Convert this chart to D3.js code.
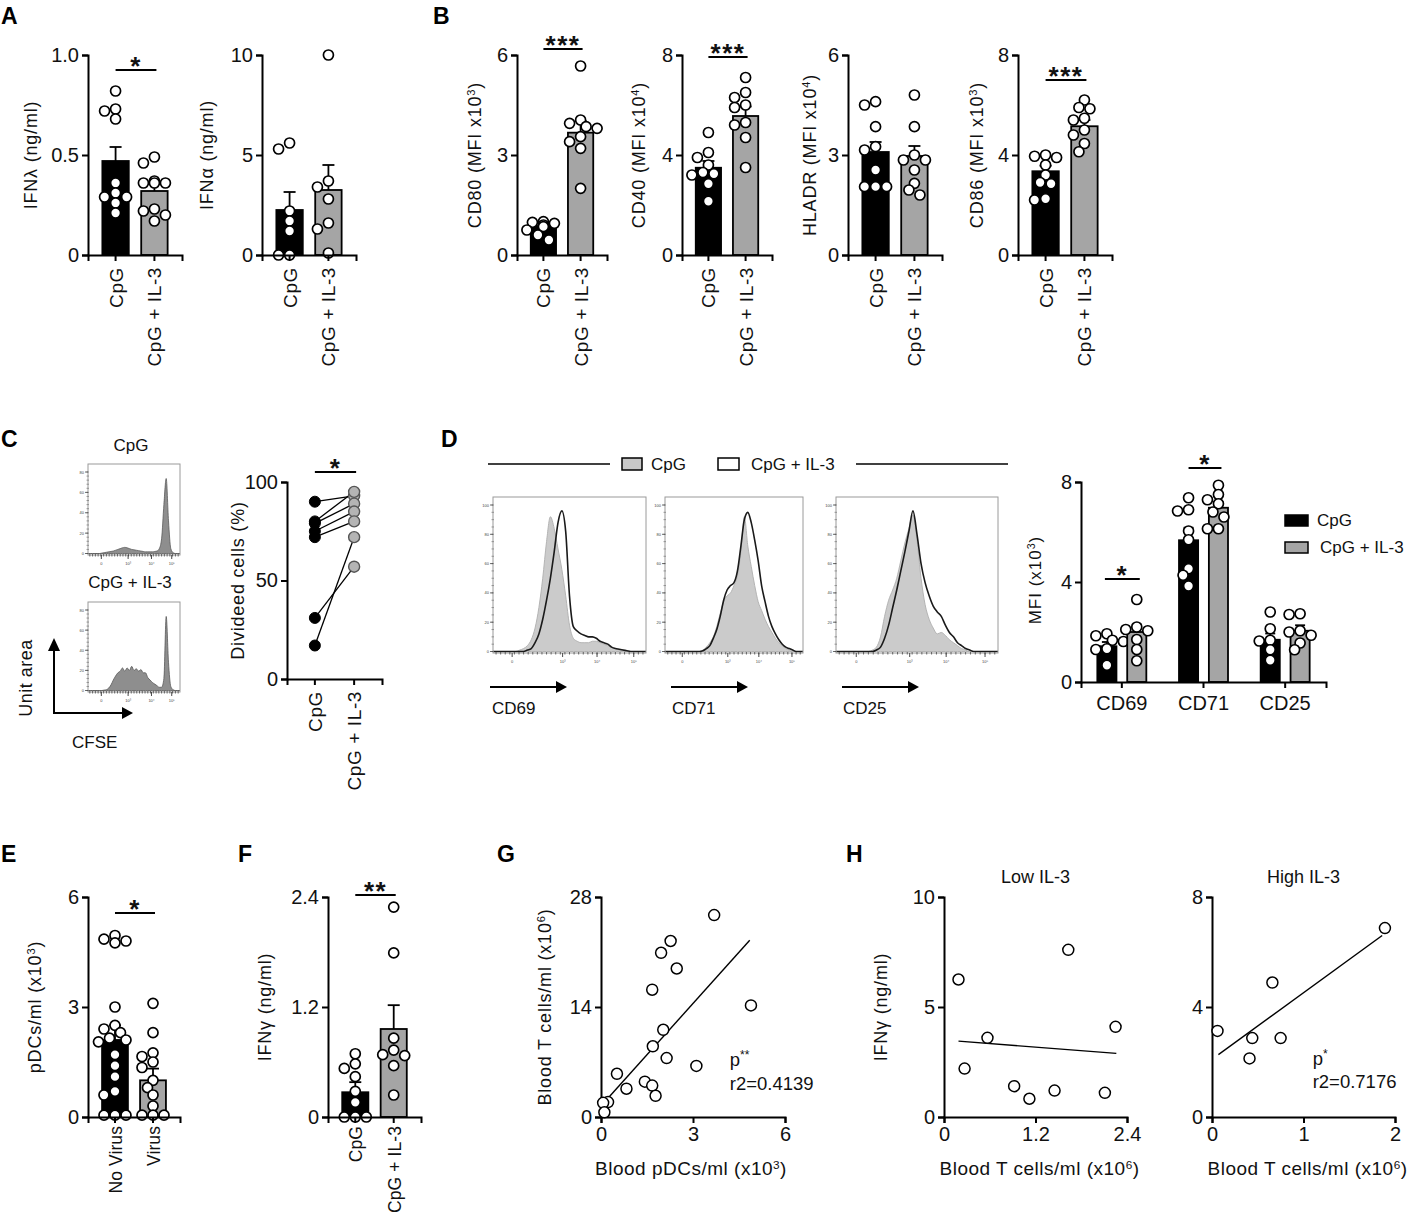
<!DOCTYPE html>
<html>
<head>
<meta charset="utf-8">
<script src="https://cdn.jsdelivr.net/npm/d3@7"></script>
<style>
  body { margin: 0; background: #fff; }
  svg { display: block; }
</style>
</head>
<body>
<div id="fig"></div>
<script>
var FONT = "'Liberation Sans', Arial, sans-serif";

// ---------- data ----------
var twoGroups = ["CpG", "CpG + IL-3"];
var virusGroups = ["No Virus", "Virus"];

// A
var ifnLambdaPts = [[0.82, 0.73, 0.72, 0.68, 0.36, 0.31, 0.29, 0.29, 0.26, 0.21],
                    [0.49, 0.46, 0.37, 0.36, 0.36, 0.36, 0.23, 0.22, 0.20, 0.17]];
var ifnLambdaMean = [0.47, 0.32];
var ifnLambdaSem = [0.07, 0.035];
var ifnAlphaPts = [[5.6, 5.3, 2.2, 1.7, 1.2, 0, 0],
                   [10, 3.7, 3.4, 2.8, 1.6, 1.3, 0.1]];
var ifnAlphaMean = [2.25, 3.25];
var ifnAlphaSem = [0.9, 1.25];

// B
var cd80Pts = [[1.0, 0.98, 0.95, 0.9, 0.85, 0.75, 0.6, 0.45],
               [5.67, 4.05, 3.95, 3.85, 3.8, 3.55, 3.4, 3.2, 2.0]];
var cd80Mean = [0.87, 3.67];
var cd80Sem = [0.07, 0.35];
var cd40Pts = [[4.9, 4.1, 3.9, 3.6, 3.3, 3.25, 3.2, 2.85, 2.15],
               [7.1, 6.5, 6.3, 6.0, 5.9, 5.3, 5.2, 4.7, 3.5]];
var cd40Mean = [3.49, 5.56];
var cd40Sem = [0.27, 0.38];
var hladrPts = [[4.6, 4.5, 3.85, 3.25, 3.15, 2.55, 2.05, 2.05, 2.05],
                [4.8, 3.85, 3.0, 2.85, 2.85, 2.55, 2.15, 1.95, 1.8]];
var hladrMean = [3.09, 2.97];
var hladrSem = [0.3, 0.3];
var cd86Pts = [[4.0, 3.95, 3.9, 3.6, 3.2, 2.9, 2.85, 2.25, 2.2],
               [6.2, 5.9, 5.85, 5.47, 5.4, 5.0, 4.8, 4.46, 4.13]];
var cd86Mean = [3.35, 5.15];
var cd86Sem = [0.22, 0.25];

// C
var dividedCpG = [90, 80, 79, 75, 72, 31, 17];
var dividedIL3 = [93, 95, 89, 85, 80, 57, 72];
var cfseCpG = [0,0,0,0,0,0,0.5,1,1.5,2,2.5,3,4,5,6,7,7.5,7,6,5,4.5,4,3.5,3,2.5,2,2,2,2,2.5,3,6,18,60,92,40,6,1,0,0,0];
var cfseIL3 = [0,0,0,0,0,0,0,0.5,1,3,7,13,18,22,24,28,24,28,25,30,25,27,24,26,22,22,16,13,10,8,6,4,4,15,92,35,5,1,0,0,0];
var cfseTickLabels = ["0", "10\u00b3", "10\u2074", "10\u2075"];

// D
var markers = ["CD69", "CD71", "CD25"];
var cd69Gray = [0,0,0,0,0,0,0,1,2,4,8,16,30,50,75,92,84,70,56,38,18,9,7,6,6,6,7,7,6,5,4,3,2,1,1,0,0,0,0,0,0];
var cd69Black = [0,0,0,0,0,0,0,0,0,1,2,6,12,22,35,50,68,88,96,82,38,17,14,12,11,10,10,9,7,6,5,3,2,1.5,1,0.5,0,0,0,0,0];
var cd71Gray = [0,0,0,0,0,0,0,0,0,0,0,1,3,6,10,17,26,34,38,40,45,52,68,92,72,58,45,34,28,22,17,13,9,6,4,2,1,0,0,0,0];
var cd71Black = [0,0,0,0,0,0,0,0,0,0,0,0.5,2,4,9,15,24,35,42,45,47,55,72,90,95,88,76,62,45,34,24,17,12,8,5,3,2,1,0,0,0];
var cd25Gray = [0,0,0,0,0,0,0,0,0,1,3,10,24,35,42,50,62,74,84,93,76,50,32,22,16,12,13,11,8,6,4,2,1,0,0,0,0,0,0,0,0];
var cd25Black = [0,0,0,0,0,0,0,0,0,0,1,3,9,18,30,42,55,68,82,96,80,60,47,38,31,27,24,18,13,10,6,4,2,1,0,0,0,0,0,0,0];
var flowYTicks = ["0", "20", "40", "60", "80", "100"];
var mfiCpGPts = [[1.93, 1.85, 1.67, 1.62, 1.33, 1.3, 0.67],
                 [7.37, 6.89, 6.84, 6.04, 5.69, 4.53, 4.27, 3.84],
                 [2.8, 2.13, 1.67, 1.64, 1.29, 0.87]];
var mfiIL3Pts = [[3.3, 2.2, 2.1, 2.05, 1.7, 1.3, 0.85],
                 [7.87, 7.5, 7.29, 7.13, 6.8, 6.6, 6.13, 6.13],
                 [2.73, 2.7, 2.05, 2.0, 1.87, 1.56, 1.29]];
var mfiCpGMean = [1.43, 5.67, 1.69];
var mfiCpGSem = [0.17, 0.5, 0.25];
var mfiIL3Mean = [2.0, 6.97, 2.05];
var mfiIL3Sem = [0.3, 0.23, 0.22];

// E, F
var pdcPts = [[4.95, 4.85, 4.8, 4.75, 3.0, 2.5, 2.4, 2.3, 2.15, 2.1, 2.05, 1.7, 1.4, 1.1, 0.7, 0.6, 0.05, 0.05, 0.05],
              [3.1, 2.3, 1.75, 1.65, 1.5, 1.35, 1.0, 0.8, 0.6, 0.3, 0.05, 0.05, 0.05]];
var pdcMean = [2.1, 1.0];
var pdcSem = [0.4, 0.32];
var ifnGammaPts = [[0.69, 0.58, 0.53, 0.44, 0.28, 0.16, 0, 0, 0],
                   [2.29, 1.79, 0.86, 0.73, 0.68, 0.67, 0.56, 0.24]];
var ifnGammaMean = [0.27, 0.96];
var ifnGammaSem = [0.11, 0.26];

// G
var gPdc = [3.69, 2.27, 1.96, 2.47, 1.67, 4.89, 2.03, 1.69, 2.14, 3.11, 0.52, 1.43, 1.67, 0.83, 1.78, 0.23, 0.07, 0.11];
var gTcells = [25.7, 22.4, 20.9, 18.9, 16.2, 14.2, 11.1, 9.0, 7.5, 6.5, 5.5, 4.5, 4.0, 3.6, 2.7, 1.9, 1.8, 0.6];
var gFit = [1.4, 4.35];          // intercept, slope
var gFitRange = [0.05, 4.85];

// H
var lowTcells = [0.19, 0.27, 0.57, 0.92, 1.12, 1.45, 1.63, 2.11, 2.25];
var lowIfng = [6.25, 2.2, 3.6, 1.4, 0.83, 1.2, 7.6, 1.1, 4.1];
var lowFit = [3.5, -0.27];
var lowFitRange = [0.19, 2.26];
var highTcells = [0.06, 0.41, 0.44, 0.66, 0.75, 1.89];
var highIfng = [3.13, 2.13, 2.87, 4.89, 2.87, 6.87];
var highFit = [2.1, 2.42];
var highFitRange = [0.07, 1.86];

// ---------- drawing ----------
var svg = d3.select("#fig").append("svg")
    .attr("width", 1412).attr("height", 1215)
    .attr("font-family", FONT);

var R = 5;
var TICK_FS = 20;
var histGrid = d3.range(0, 100.01, 2.5);

function richText(sel, parts, size) {
    parts.forEach(function(p) {
        if (typeof p === "string") sel.append("tspan").text(p);
        else sel.append("tspan").attr("baseline-shift", "super").attr("font-size", size * 0.62).text(p.sup);
    });
    return sel;
}

function yTitle(x, cy, parts, size, spacing) {
    var t = svg.append("text")
        .attr("transform", "translate(" + (x + 6) + "," + cy + ") rotate(-90)")
        .attr("text-anchor", "middle")
        .attr("font-size", size)
        .attr("letter-spacing", spacing)
        .attr("fill", "#111");
    richText(t, parts, size);
}

function styleAxis(sel, fs) {
    sel.attr("font-family", FONT).attr("font-size", fs);
    sel.select(".domain").attr("stroke", "#000").attr("stroke-width", 2);
    sel.selectAll(".tick line").attr("stroke", "#000").attr("stroke-width", 2);
    sel.selectAll(".tick text").attr("fill", "#111");
}

// simple beeswarm so the dots don't sit on top of each other
function swarm(vals, y, cx, r) {
    var placed = [];
    vals.forEach(function(v) {
        var py = y(v), px = cx, offs = [0, -1, 1, -2, 2, -3, 3];
        for (var k = 0; k < offs.length; k++) {
            var tx = cx + offs[k] * r * 1.1;
            var ok = placed.every(function(p) { return Math.hypot(p[0] - tx, p[1] - py) >= r * 1.7; });
            if (ok) { px = tx; break; }
        }
        placed.push([px, py]);
    });
    return placed;
}

function sigBar(x1, x2, y, txt) {
    svg.append("line").attr("x1", x1).attr("x2", x2).attr("y1", y).attr("y2", y)
        .attr("stroke", "#000").attr("stroke-width", 1.8);
    svg.append("text").attr("x", (x1 + x2) / 2).attr("y", y + 5)
        .attr("text-anchor", "middle").attr("font-size", 26).attr("font-weight", "bold")
        .attr("letter-spacing", 1.5).attr("fill", "#111").text(txt);
}

function catLabel(g, cx, zero, text, small) {
    g.append("text")
        .attr("transform", "translate(" + (cx + 7) + "," + (zero + (small ? 9 : 12)) + ") rotate(-90)")
        .attr("text-anchor", "end").attr("font-size", small ? 17.5 : 19).attr("letter-spacing", small ? 0.1 : 0.6)
        .attr("fill", "#111").text(text);
}

function barDot(c) {
    var fills = ["#000", "#a5a5a5"];
    var g = svg.append("g").attr("transform", "translate(" + c.x + ",0)");
    var y = d3.scaleLinear().domain([0, c.max]).range([c.zero, c.top]);
    var x = d3.scaleBand().domain(c.cats).range([0, c.w]).paddingInner(0.32).paddingOuter(0.37);
    var cx = function(i) { return x(c.cats[i]) + x.bandwidth() / 2; };

    g.selectAll("rect.bar").data(c.mean).join("rect")
        .attr("x", function(d, i) { return x(c.cats[i]); })
        .attr("width", x.bandwidth())
        .attr("y", function(d) { return y(d); })
        .attr("height", function(d) { return c.zero - y(d); })
        .attr("fill", function(d, i) { return fills[i]; })
        .attr("stroke", "#000").attr("stroke-width", 1.8);

    c.mean.forEach(function(m, i) {
        var top = y(m + c.sem[i]);
        g.append("line").attr("x1", cx(i)).attr("x2", cx(i)).attr("y1", y(m)).attr("y2", top)
            .attr("stroke", "#000").attr("stroke-width", 1.8);
        g.append("line").attr("x1", cx(i) - 6).attr("x2", cx(i) + 6).attr("y1", top).attr("y2", top)
            .attr("stroke", "#000").attr("stroke-width", 1.8);
    });

    c.pts.forEach(function(arr, i) {
        g.append("g").selectAll("circle").data(swarm(arr, y, cx(i), R)).join("circle")
            .attr("cx", function(d) { return d[0]; })
            .attr("cy", function(d) { return d[1]; })
            .attr("r", R).attr("fill", "#fff").attr("stroke", "#000").attr("stroke-width", 1.7);
    });

    var ya = g.append("g").call(d3.axisLeft(y).tickValues(c.ticks).tickFormat(c.fmt || d3.format("d"))
        .tickSizeOuter(0).tickSize(6).tickPadding(3));
    styleAxis(ya, TICK_FS);
    var xa = g.append("g").attr("transform", "translate(0," + c.zero + ")")
        .call(d3.axisBottom(x).tickFormat("").tickSizeOuter(0).tickSize(6));
    styleAxis(xa, TICK_FS);

    c.cats.forEach(function(cat, i) { catLabel(g, cx(i), c.zero, cat, c.smallCats); });

    yTitle(c.titleX, (c.top + c.zero) / 2, c.title, 18, 0.8);
    if (c.sig) sigBar(c.x + cx(0), c.x + cx(1) + 2, c.sig.y, c.sig.text);
}

function letter(x, y, t) {
    svg.append("text").attr("x", x).attr("y", y).attr("font-size", 23).attr("font-weight", "bold")
        .attr("fill", "#000").text(t);
}

// ---- row 1 ----
letter(1, 24, "A");
letter(433, 24, "B");
var fmt1 = function(d) { return d === 0 ? "0" : d.toFixed(1); };
barDot({x: 88, w: 94, top: 55, zero: 255, max: 1, ticks: [0, 0.5, 1], fmt: fmt1, cats: twoGroups,
        pts: ifnLambdaPts, mean: ifnLambdaMean, sem: ifnLambdaSem,
        title: ["IFN\u03bb (ng/ml)"], titleX: 31, sig: {y: 70, text: "*"}});
barDot({x: 262, w: 94, top: 55, zero: 255, max: 10, ticks: [0, 5, 10], cats: twoGroups,
        pts: ifnAlphaPts, mean: ifnAlphaMean, sem: ifnAlphaSem,
        title: ["IFN\u03b1 (ng/ml)"], titleX: 207});
barDot({x: 517, w: 90, top: 55, zero: 255, max: 6, ticks: [0, 3, 6], cats: twoGroups,
        pts: cd80Pts, mean: cd80Mean, sem: cd80Sem,
        title: ["CD80 (MFI x10", {sup: "3"}, ")"], titleX: 475, sig: {y: 49, text: "***"}});
barDot({x: 682, w: 90, top: 55, zero: 255, max: 8, ticks: [0, 4, 8], cats: twoGroups,
        pts: cd40Pts, mean: cd40Mean, sem: cd40Sem,
        title: ["CD40 (MFI x10", {sup: "4"}, ")"], titleX: 639, sig: {y: 57, text: "***"}});
barDot({x: 848, w: 94, top: 55, zero: 255, max: 6, ticks: [0, 3, 6], cats: twoGroups,
        pts: hladrPts, mean: hladrMean, sem: hladrSem,
        title: ["HLADR (MFI x10", {sup: "4"}, ")"], titleX: 810});
barDot({x: 1018, w: 94, top: 55, zero: 255, max: 8, ticks: [0, 4, 8], cats: twoGroups,
        pts: cd86Pts, mean: cd86Mean, sem: cd86Sem,
        title: ["CD86 (MFI x10", {sup: "3"}, ")"], titleX: 977, sig: {y: 80, text: "***"}});

// ---- flow histogram boxes ----
function flowBox(b, curves, xTicks, xLabels, yLabels) {
    var g = svg.append("g");
    var x = d3.scaleLinear().domain([0, 100]).range([b.x0, b.x1]);
    var y = d3.scaleLinear().domain([0, 100]).range([b.y1 - 1.5, b.y0 + b.pad]);
    var area = d3.area().x(function(d, i) { return x(histGrid[i]); }).y0(y(0))
        .y1(function(d) { return y(d); }).curve(d3.curveMonotoneX);
    var line = d3.line().x(function(d, i) { return x(histGrid[i]); })
        .y(function(d) { return y(d); }).curve(d3.curveMonotoneX);
    curves.forEach(function(c) {
        if (c.fill) g.append("path").attr("d", area(c.v)).attr("fill", c.fill)
            .attr("stroke", c.stroke).attr("stroke-width", c.sw);
        else g.append("path").attr("d", line(c.v)).attr("fill", "none")
            .attr("stroke", c.stroke).attr("stroke-width", c.sw);
    });
    g.append("rect").attr("x", b.x0).attr("y", b.y0).attr("width", b.x1 - b.x0).attr("height", b.y1 - b.y0)
        .attr("fill", "none").attr("stroke", "#9a9a9a").attr("stroke-width", 1);
    // minor ticks along left and bottom
    d3.range(0, 101, 5).forEach(function(v) {
        g.append("line").attr("x1", b.x0 - 1.5).attr("x2", b.x0 + 1).attr("y1", y(v)).attr("y2", y(v))
            .attr("stroke", "#777").attr("stroke-width", 0.7);
    });
    d3.range(2, 100, 3).forEach(function(u) {
        g.append("line").attr("x1", x(u)).attr("x2", x(u)).attr("y1", b.y1 - 1).attr("y2", b.y1 + 1.5)
            .attr("stroke", "#444").attr("stroke-width", 0.8);
    });
    yLabels.forEach(function(lab, i) {
        var v = i * 100 / (yLabels.length - 1);
        g.append("line").attr("x1", b.x0 - 3).attr("x2", b.x0).attr("y1", y(v)).attr("y2", y(v))
            .attr("stroke", "#444").attr("stroke-width", 0.8);
        g.append("text").attr("x", b.x0 - 4).attr("y", y(v) + 1.5).attr("text-anchor", "end")
            .attr("font-size", 4).attr("fill", "#444").text(lab);
    });
    xTicks.forEach(function(u, i) {
        g.append("line").attr("x1", x(u)).attr("x2", x(u)).attr("y1", b.y1).attr("y2", b.y1 + 4)
            .attr("stroke", "#333").attr("stroke-width", 0.9);
        g.append("text").attr("x", x(u)).attr("y", b.y1 + 10).attr("text-anchor", "middle")
            .attr("font-size", 4).attr("fill", "#444").text(xLabels[i]);
    });
}

function arrowH(x1, x2, y) {
    svg.append("line").attr("x1", x1).attr("x2", x2 - 8).attr("y1", y).attr("y2", y)
        .attr("stroke", "#000").attr("stroke-width", 2);
    svg.append("path").attr("d", "M" + x2 + "," + y + "L" + (x2 - 11) + "," + (y - 6) + "L" + (x2 - 11) + "," + (y + 6) + "Z")
        .attr("fill", "#000");
}

function plainText(x, y, t, size, anchor) {
    return svg.append("text").attr("x", x).attr("y", y).attr("font-size", size)
        .attr("text-anchor", anchor || "start").attr("fill", "#111").text(t);
}

// ---- row 2: C ----
letter(1, 447, "C");
plainText(131, 451, "CpG", 17, "middle");
plainText(130, 588, "CpG  + IL-3", 17, "middle");
var cfseGray = {fill: "#8e8e8e", stroke: "#5a5a5a", sw: 0.8};
flowBox({x0: 88, x1: 180, y0: 464, y1: 555, pad: 8},
        [{v: cfseCpG, fill: cfseGray.fill, stroke: cfseGray.stroke, sw: cfseGray.sw}],
        [14.5, 43.6, 69, 91], cfseTickLabels, ["0", "20", "40", "60", "80"]);
flowBox({x0: 88, x1: 180, y0: 602, y1: 692, pad: 8},
        [{v: cfseIL3, fill: cfseGray.fill, stroke: cfseGray.stroke, sw: cfseGray.sw}],
        [14.5, 43.6, 69, 91], cfseTickLabels, ["0", "20", "40", "60", "80"]);
// unit area / CFSE axes
svg.append("line").attr("x1", 54).attr("x2", 54).attr("y1", 714).attr("y2", 650)
    .attr("stroke", "#000").attr("stroke-width", 2);
svg.append("path").attr("d", "M54,638L48,651L60,651Z").attr("fill", "#000");
arrowH(53, 133, 713);
yTitle(26, 678, ["Unit area"], 18, 0.5);
plainText(72, 748, "CFSE", 17);

// paired plot
(function() {
    var ax = 287, w = 95, top = 482, zero = 679;
    var g = svg.append("g").attr("transform", "translate(" + ax + ",0)");
    var y = d3.scaleLinear().domain([0, 100]).range([zero, top]);
    var x = d3.scaleBand().domain(twoGroups).range([0, w]).paddingInner(0.32).paddingOuter(0.37);
    var c0 = x(twoGroups[0]) + x.bandwidth() / 2, c1 = x(twoGroups[1]) + x.bandwidth() / 2;
    var ya = g.append("g").call(d3.axisLeft(y).tickValues([0, 50, 100]).tickSizeOuter(0).tickSize(6).tickPadding(3));
    styleAxis(ya, TICK_FS);
    var xa = g.append("g").attr("transform", "translate(0," + zero + ")")
        .call(d3.axisBottom(x).tickFormat("").tickSizeOuter(0).tickSize(6));
    styleAxis(xa, TICK_FS);
    g.selectAll("line.pair").data(dividedCpG).join("line")
        .attr("x1", c0).attr("x2", c1)
        .attr("y1", function(d) { return y(d); })
        .attr("y2", function(d, i) { return y(dividedIL3[i]); })
        .attr("stroke", "#000").attr("stroke-width", 1.3);
    g.selectAll("circle.cpg").data(dividedCpG).join("circle")
        .attr("cx", c0).attr("cy", function(d) { return y(d); }).attr("r", 5.5)
        .attr("fill", "#000").attr("stroke", "#000");
    g.selectAll("circle.il3").data(dividedIL3).join("circle")
        .attr("cx", c1).attr("cy", function(d) { return y(d); }).attr("r", 5.5)
        .attr("fill", "#b4b4b4").attr("stroke", "#555").attr("stroke-width", 1.4);
    [c0, c1].forEach(function(cx, i) { catLabel(g, cx, zero, twoGroups[i]); });
    yTitle(238, (top + zero) / 2, ["Divideed cells (%)"], 18, 0.8);
    sigBar(ax + c0, ax + c1 + 2, 472, "*");
})();

// ---- row 2: D ----
letter(441, 447, "D");
svg.append("line").attr("x1", 488).attr("x2", 610).attr("y1", 464).attr("y2", 464).attr("stroke", "#000").attr("stroke-width", 1.5);
svg.append("line").attr("x1", 856).attr("x2", 1008).attr("y1", 464).attr("y2", 464).attr("stroke", "#000").attr("stroke-width", 1.5);
svg.append("rect").attr("x", 622).attr("y", 458).attr("width", 20).attr("height", 12)
    .attr("fill", "#c8c8c8").attr("stroke", "#000").attr("stroke-width", 1.5);
plainText(651, 470, "CpG", 17);
svg.append("rect").attr("x", 718).attr("y", 458).attr("width", 21).attr("height", 12)
    .attr("fill", "#fff").attr("stroke", "#000").attr("stroke-width", 1.5);
plainText(751, 470, "CpG + IL-3", 17);

var dBoxes = [{x0: 493, x1: 646}, {x0: 665, x1: 803}, {x0: 836, x1: 998}];
var dCurves = [[cd69Gray, cd69Black], [cd71Gray, cd71Black], [cd25Gray, cd25Black]];
var dTicks = [[12.5, 45.5, 68, 92], [12.5, 45.5, 68, 92], [12.5, 45.5, 68, 92]];
dBoxes.forEach(function(b, i) {
    flowBox({x0: b.x0, x1: b.x1, y0: 497, y1: 653, pad: 8},
            [{v: dCurves[i][0], fill: "#cbcbcb", stroke: "#b4b4b4", sw: 1},
             {v: dCurves[i][1], stroke: "#1a1a1a", sw: 1.6}],
            dTicks[i], cfseTickLabels, flowYTicks);
    arrowH(b.x0 - 3 + (i === 0 ? 0 : 9), b.x0 + 74 + (i === 0 ? 0 : 9), 687);
    plainText(b.x0 - 1 + (i === 0 ? 0 : 8), 714, markers[i], 17);
});

// grouped bar chart
(function() {
    var ax = 1081, w = 245, top = 482, zero = 682;
    var g = svg.append("g").attr("transform", "translate(" + ax + ",0)");
    var y = d3.scaleLinear().domain([0, 8]).range([zero, top]);
    var x0 = d3.scaleBand().domain(markers).range([0, w]).paddingInner(0.4).paddingOuter(0.2);
    var x1 = d3.scaleBand().domain(twoGroups).range([0, x0.bandwidth()]).paddingInner(0.36);
    var series = [
        {name: twoGroups[0], mean: mfiCpGMean, sem: mfiCpGSem, pts: mfiCpGPts, fill: "#000"},
        {name: twoGroups[1], mean: mfiIL3Mean, sem: mfiIL3Sem, pts: mfiIL3Pts, fill: "#a5a5a5"}
    ];
    series.forEach(function(s) {
        markers.forEach(function(m, j) {
            var bx = x0(m) + x1(s.name), cx = bx + x1.bandwidth() / 2;
            g.append("rect").attr("x", bx).attr("width", x1.bandwidth())
                .attr("y", y(s.mean[j])).attr("height", zero - y(s.mean[j]))
                .attr("fill", s.fill).attr("stroke", "#000").attr("stroke-width", 1.8);
            var t = y(s.mean[j] + s.sem[j]);
            g.append("line").attr("x1", cx).attr("x2", cx).attr("y1", y(s.mean[j])).attr("y2", t)
                .attr("stroke", "#000").attr("stroke-width", 1.8);
            g.append("line").attr("x1", cx - 5).attr("x2", cx + 5).attr("y1", t).attr("y2", t)
                .attr("stroke", "#000").attr("stroke-width", 1.8);
            g.append("g").selectAll("circle").data(swarm(s.pts[j], y, cx, R)).join("circle")
                .attr("cx", function(d) { return d[0]; }).attr("cy", function(d) { return d[1]; })
                .attr("r", R).attr("fill", "#fff").attr("stroke", "#000").attr("stroke-width", 1.7);
        });
    });
    var ya = g.append("g").call(d3.axisLeft(y).tickValues([0, 4, 8]).tickSizeOuter(0).tickSize(6).tickPadding(3));
    styleAxis(ya, TICK_FS);
    var xa = g.append("g").attr("transform", "translate(0," + zero + ")")
        .call(d3.axisBottom(x0).tickSizeOuter(0).tickSize(6).tickPadding(8));
    styleAxis(xa, TICK_FS);
    yTitle(1035, 580, ["MFI (x10", {sup: "3"}, ")"], 17, 1);
    var cxOf = function(m, k) { return ax + x0(m) + x1(twoGroups[k]) + x1.bandwidth() / 2; };
    sigBar(cxOf("CD69", 0) - 2, cxOf("CD69", 1) + 3, 579, "*");
    sigBar(cxOf("CD71", 0), cxOf("CD71", 1) + 3, 468, "*");
    // legend
    svg.append("rect").attr("x", 1285).attr("y", 515).attr("width", 23).attr("height", 11)
        .attr("fill", "#000").attr("stroke", "#000").attr("stroke-width", 1.5);
    svg.append("rect").attr("x", 1285).attr("y", 542).attr("width", 23).attr("height", 11)
        .attr("fill", "#a5a5a5").attr("stroke", "#000").attr("stroke-width", 1.5);
    plainText(1317, 526, "CpG", 17);
    plainText(1320, 553, "CpG  + IL-3", 17);
})();

// ---- row 3: E, F ----
letter(1, 862, "E");
letter(238, 862, "F");
letter(497, 862, "G");
letter(846, 862, "H");
barDot({x: 88, w: 92, top: 897, zero: 1117, max: 6, ticks: [0, 3, 6], cats: virusGroups,
        pts: pdcPts, mean: pdcMean, sem: pdcSem, smallCats: true,
        title: ["pDCs/ml (x10", {sup: "3"}, ")"], titleX: 35, sig: {y: 913, text: "*"}});
barDot({x: 328, w: 93, top: 897, zero: 1117, max: 2.4, ticks: [0, 1.2, 2.4], fmt: fmt1, cats: twoGroups,
        pts: ifnGammaPts, mean: ifnGammaMean, sem: ifnGammaSem, smallCats: true,
        title: ["IFN\u03b3 (ng/ml)"], titleX: 265, sig: {y: 895, text: "**"}});

// ---- scatter plots ----
function scatter(c) {
    var g = svg.append("g");
    var x = d3.scaleLinear().domain([0, c.xmax]).range([c.x, c.x + c.w]);
    var y = d3.scaleLinear().domain([0, c.ymax]).range([c.zero, c.top]);
    var ya = g.append("g").attr("transform", "translate(" + c.x + ",0)")
        .call(d3.axisLeft(y).tickValues(c.yticks).tickSizeOuter(0).tickSize(6).tickPadding(3));
    styleAxis(ya, TICK_FS);
    var xa = g.append("g").attr("transform", "translate(0," + c.zero + ")")
        .call(d3.axisBottom(x).tickValues(c.xticks).tickFormat(c.xfmt).tickSizeOuter(0).tickSize(6).tickPadding(4));
    styleAxis(xa, TICK_FS);
    g.append("line")
        .attr("x1", x(c.range[0])).attr("y1", y(c.fit[0] + c.fit[1] * c.range[0]))
        .attr("x2", x(c.range[1])).attr("y2", y(c.fit[0] + c.fit[1] * c.range[1]))
        .attr("stroke", "#000").attr("stroke-width", 1.4);
    g.selectAll("circle").data(c.xs).join("circle")
        .attr("cx", function(d) { return x(d); })
        .attr("cy", function(d, i) { return y(c.ys[i]); })
        .attr("r", 5.5).attr("fill", "#fff").attr("stroke", "#000").attr("stroke-width", 1.5);
    var xl = g.append("text").attr("x", c.x + c.w / 2 + c.xlabDx).attr("y", 1175)
        .attr("text-anchor", "middle").attr("font-size", 19).attr("letter-spacing", 0.5).attr("fill", "#111");
    richText(xl, c.xlabel, 19);
    if (c.ytitle) yTitle(c.ytitleX, (c.top + c.zero) / 2, c.ytitle, 18, 0.8);
    if (c.title) plainText(c.x + c.w / 2, 883, c.title, 18, "middle");
    if (c.note) {
        var p = g.append("text").attr("x", x(c.note.x)).attr("y", y(c.note.y1))
            .attr("font-size", 18.5).attr("fill", "#111");
        p.append("tspan").text("p");
        p.append("tspan").attr("baseline-shift", "super").attr("font-size", 12).text(c.note.stars);
        g.append("text").attr("x", x(c.note.x)).attr("y", y(c.note.y2))
            .attr("font-size", 18.5).attr("fill", "#111").text(c.note.r2);
    }
}

scatter({x: 601, w: 184, top: 897, zero: 1117, xmax: 6, xticks: [0, 3, 6], xfmt: d3.format("d"),
         ymax: 28, yticks: [0, 14, 28], xs: gPdc, ys: gTcells, fit: gFit, range: gFitRange,
         xlabel: ["Blood pDCs/ml (x10", {sup: "3"}, ")"], xlabDx: -2,
         ytitle: ["Blood T cells/ml (x10", {sup: "6"}, ")"], ytitleX: 545,
         note: {x: 4.2, y1: 6.5, y2: 3.4, stars: "**", r2: "r2=0.4139"}});
scatter({x: 944, w: 183, top: 897, zero: 1117, xmax: 2.4, xticks: [0, 1.2, 2.4], xfmt: fmt1,
         ymax: 10, yticks: [0, 5, 10], xs: lowTcells, ys: lowIfng, fit: lowFit, range: lowFitRange,
         xlabel: ["Blood T  cells/ml (x10", {sup: "6"}, ")"], xlabDx: 4,
         ytitle: ["IFN\u03b3 (ng/ml)"], ytitleX: 881, title: "Low IL-3"});
scatter({x: 1212, w: 183, top: 897, zero: 1117, xmax: 2, xticks: [0, 1, 2], xfmt: d3.format("d"),
         ymax: 8, yticks: [0, 4, 8], xs: highTcells, ys: highIfng, fit: highFit, range: highFitRange,
         xlabel: ["Blood T  cells/ml (x10", {sup: "6"}, ")"], xlabDx: 4, title: "High IL-3",
         note: {x: 1.1, y1: 1.9, y2: 1.05, stars: "*", r2: "r2=0.7176"}});
</script>
</body>
</html>
